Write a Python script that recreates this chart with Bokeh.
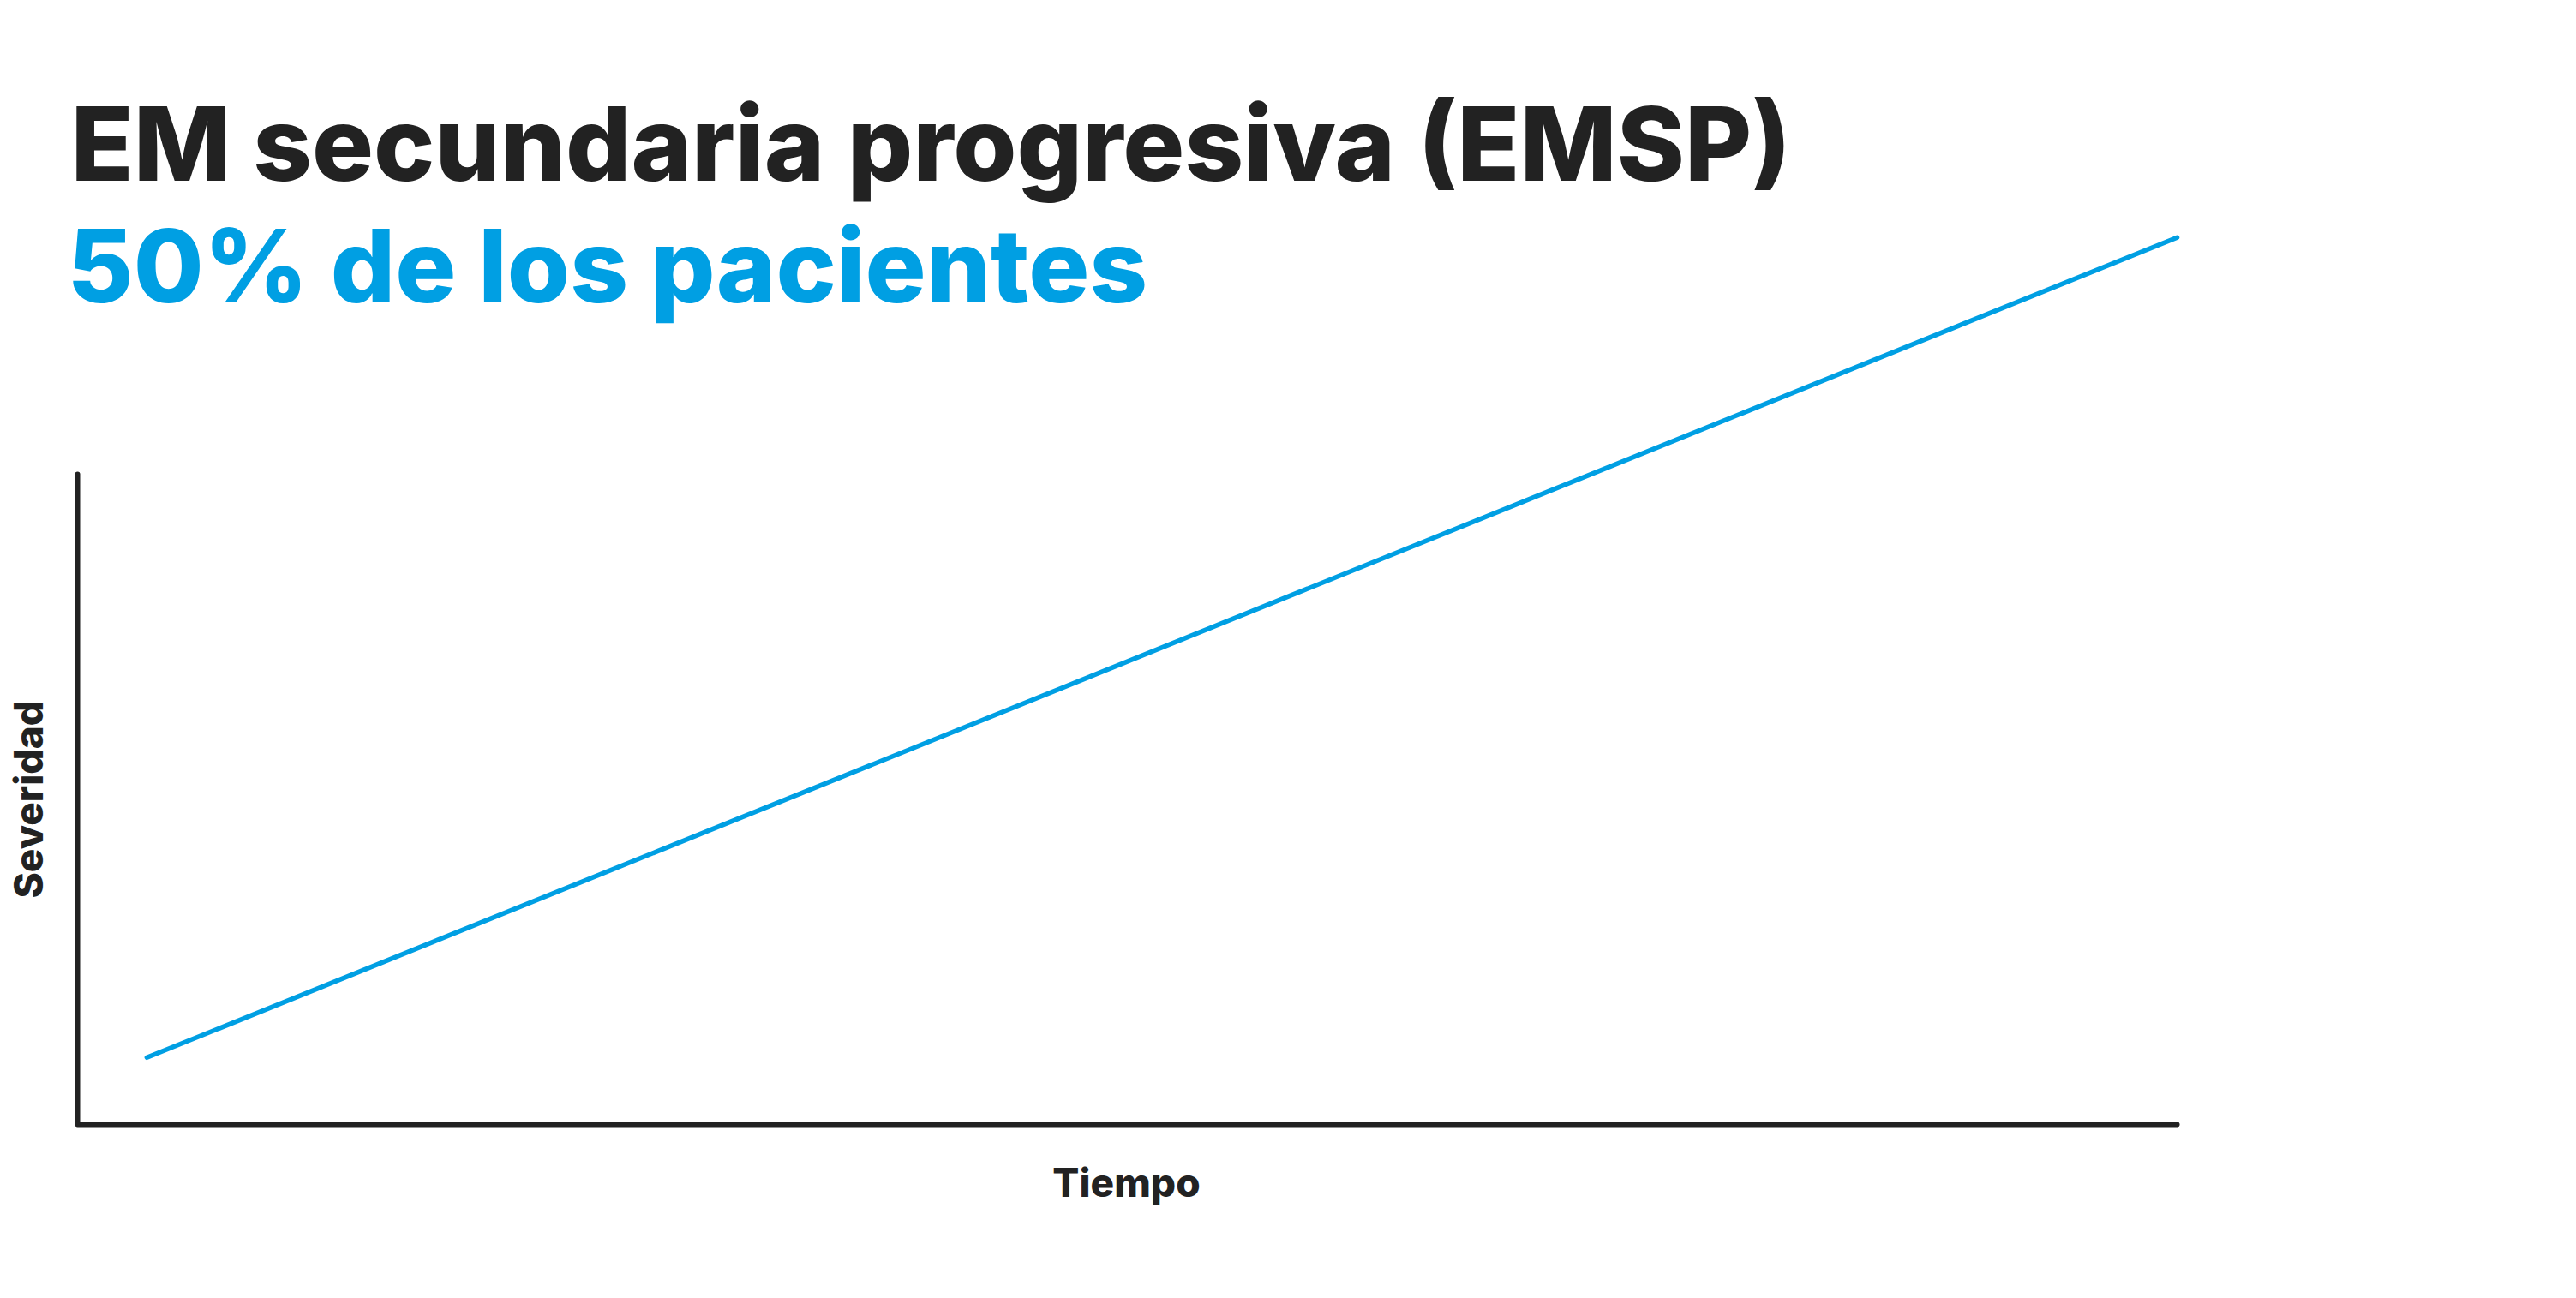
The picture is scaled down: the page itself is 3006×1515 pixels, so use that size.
from bokeh.plotting import figure
from bokeh.models import Range1d, FixedTicker, Label, Title
from bokeh.embed import file_html
from bokeh.resources import INLINE

# ---- data ----
tiempo = [0.33, 10.0]          # time (arbitrary units)
severidad = [1.03, 13.64]      # severity (arbitrary units)

titulo = "EM secundaria progresiva (EMSP)"
subtitulo = "50% de los pacientes"
x_label = "Tiempo"
y_label = "Severidad"

DARK = "#222222"
BLUE = "#009FE3"
FONT = "Inter ExtraBold, Inter"

p = figure(
    width=2990, height=1499,
    output_backend="svg", toolbar_location=None,
    x_range=Range1d(-0.1143, 10.106), y_range=Range1d(0, 17.286),
    min_border_left=62, min_border_right=424,
    min_border_top=0, min_border_bottom=187,
    background_fill_color="white", border_fill_color="white",
)
p.outline_line_color = None
p.grid.visible = False

for ax in (p.xaxis[0], p.yaxis[0]):
    ax.ticker = FixedTicker(ticks=[])
    ax.major_tick_line_color = None
    ax.minor_tick_line_color = None
    ax.major_tick_out = 0
    ax.major_tick_in = 0
    ax.major_label_standoff = 0
    ax.major_label_text_font_size = "0px"
    ax.axis_line_color = DARK
    ax.axis_line_width = 6
    ax.axis_line_cap = "round"
    ax.axis_label_text_font = FONT
    ax.axis_label_text_font_style = "bold"
    ax.axis_label_text_font_size = "46px"
    ax.axis_label_text_color = DARK
    ax.bounds = (0, 10)

p.yaxis[0].fixed_location = 0
p.xaxis[0].axis_label = x_label
p.xaxis[0].axis_label_standoff = 39

# y-axis title, placed along the drawn part of the axis
p.add_layout(Title(text=y_label, align="left", offset=264, vertical_align="top",
                   standoff=0, text_font=FONT, text_font_style="bold",
                   text_font_size="46px", text_color=DARK), "left")

# the severity line rises above the drawn axis, so keep it unclipped
p.line(tiempo, severidad, line_color=BLUE, line_width=5.5, line_cap="round",
       level="overlay")

# headline and sub-headline
p.add_layout(Label(x=20, y=1145, x_units="screen", y_units="screen",
                   text=titulo, text_font=FONT, text_font_style="bold",
                   text_font_size="120px", text_color=DARK,
                   text_baseline="alphabetic"))
p.add_layout(Label(x=16, y=1003, x_units="screen", y_units="screen",
                   text=subtitulo, text_font=FONT, text_font_style="bold",
                   text_font_size="118.5px", text_color=BLUE,
                   text_baseline="alphabetic"))

open("out.html", "w").write(file_html(p, INLINE))
